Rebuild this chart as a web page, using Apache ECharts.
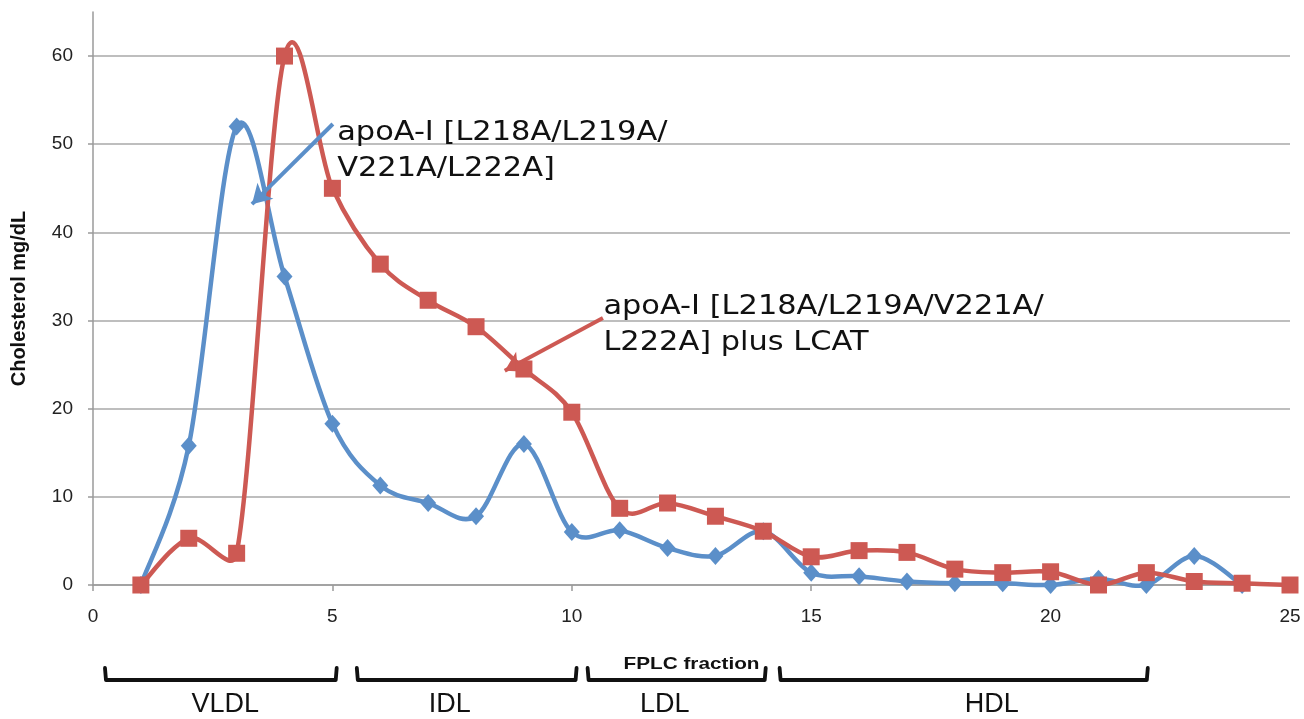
<!DOCTYPE html>
<html>
<head>
<meta charset="utf-8">
<script src="https://cdn.jsdelivr.net/npm/echarts@6/dist/echarts.min.js"></script>
<style>
html,body{margin:0;padding:0;background:#fff;}
#main{width:1304px;height:719px;}
</style>
</head>
<body>
<div id="main"></div>
<script>
// ---- data ----
const blueFractions = [1,2,3,4,5,6,7,8,9,10,11,12,13,14,15,16,17,18,19,20,21,22,23,24];
const blueValues    = [0,15.8,52,35,18.3,11.3,9.3,7.8,16,6,6.2,4.2,3.3,6.1,1.4,1.0,0.4,0.2,0.2,0,0.7,0,3.3,0];
const redFractions  = [1,2,3,4,5,6,7,8,9,10,11,12,13,14,15,16,17,18,19,20,21,22,23,24,25];
const redValues     = [0,5.3,3.6,60,45,36.4,32.3,29.3,24.5,19.6,8.7,9.3,7.8,6.1,3.2,3.9,3.7,1.8,1.4,1.5,0,1.4,0.4,0.2,0];
const yTickValues   = [0,10,20,30,40,50,60];
const xAxisTitle = 'FPLC fraction';
const yAxisTitle = 'Cholesterol mg/dL';
const blueLabel = 'apoA-I [L218A/L219A/\nV221A/L222A]';
const redLabel  = 'apoA-I [L218A/L219A/V221A/\nL222A] plus LCAT';
// annotation anchors (data units)
const blueArrow = [[5.01,52.3],[3.32,43.2]];
const redArrow  = [[10.65,30.3],[8.6,24.3]];
const blueTextAt = [5.1,53.3];
const redTextAt  = [10.66,33.6];
// lipoprotein class brackets (fraction ranges) and label centres
const bracketNames  = ['VLDL','IDL','LDL','HDL'];
const bracketStarts = [0.25,5.51,10.33,14.34];
const bracketEnds   = [5.09,10.1,14.05,22.03];
const bracketLabelX = [2.76,7.45,11.94,18.77];

const BLUE = '#5B8FC9';
const RED  = '#CD5953';

const chart = echarts.init(document.getElementById('main'));
const pairs = (xs, ys) => xs.map((x,i)=>[x, ys[i]]);

// Excel-style smoothed line: Bezier segments with 1/6 tangents, control arm
// limited to half the segment length; every point placed via the chart's scales (api.coord).
function smoothSegment(xs, ys, color){
  return function(params, api){
    const i = params.dataIndex;
    const n = xs.length;
    if (i >= n-1) return null;
    const P = k => { const c = Math.max(0,Math.min(n-1,k)); return api.coord([xs[c], ys[c]]); };
    const p0 = P(i-1), p1 = P(i), p2 = P(i+1), p3 = P(i+2);
    const d = (a,b) => Math.hypot(a[0]-b[0], a[1]-b[1]);
    const d12 = d(p1,p2), d02 = d(p0,p2), d13 = d(p1,p3);
    const f1 = d02 > 0 ? Math.min(1/6, d12/(2*d02)) : 0;
    const f2 = d13 > 0 ? Math.min(1/6, d12/(2*d13)) : 0;
    return {
      type:'bezierCurve',
      shape:{
        x1:p1[0], y1:p1[1], x2:p2[0], y2:p2[1],
        cpx1:p1[0]+(p2[0]-p0[0])*f1, cpy1:p1[1]+(p2[1]-p0[1])*f1,
        cpx2:p2[0]-(p3[0]-p1[0])*f2, cpy2:p2[1]-(p3[1]-p1[1])*f2
      },
      style:{stroke:color,lineWidth:4.5,fill:null,lineCap:'round'},
      silent:true
    };
  };
}

const option = {
  animation:false,
  backgroundColor:'#fff',
  grid:{left:93,right:14,top:12,bottom:134,containLabel:false},
  xAxis:{
    type:'value', min:0, max:25, interval:5,
    axisLine:{show:true,lineStyle:{color:'#9a9a9a',width:1.5}},
    axisTick:{show:true,length:6,lineStyle:{color:'#9a9a9a',width:1.5}},
    axisLabel:{fontSize:19,color:'#222',margin:22,fontFamily:'Liberation Sans'},
    splitLine:{show:false}
  },
  yAxis:{
    type:'value', min:0, max:65, interval:10,
    axisLine:{show:true,lineStyle:{color:'#9a9a9a',width:1.5}},
    axisTick:{show:true,length:5,customValues:yTickValues,lineStyle:{color:'#9a9a9a',width:1.5}},
    axisLabel:{fontSize:19,color:'#222',margin:20,fontFamily:'Liberation Sans',customValues:yTickValues},
    splitLine:{show:true,lineStyle:{color:['#a8a8a8','#a8a8a8','#a8a8a8','#a8a8a8','#a8a8a8','#a8a8a8','#a8a8a8','rgba(0,0,0,0)'],width:1.5}},
    name:yAxisTitle, nameLocation:'middle', nameGap:64, nameRotate:90,
    nameTextStyle:{fontSize:20,fontWeight:'bold',color:'#111',fontFamily:'Liberation Sans'}
  },
  series:[
    {
      type:'custom', name:'blueLine', data:pairs(blueFractions,blueValues),
      encode:{x:0,y:1}, clip:false, z:2,
      renderItem:smoothSegment(blueFractions,blueValues,BLUE)
    },
    {
      type:'scatter', name:'blue', data:pairs(blueFractions,blueValues),
      symbol:'diamond', symbolSize:[16,18], itemStyle:{color:BLUE,opacity:1}, z:3, silent:true,
      markLine:{
        silent:true, symbol:['none','arrow'], symbolSize:[17,19],
        label:{show:false},
        lineStyle:{color:BLUE,width:4,type:'solid',opacity:1},
        data:[[{coord:blueArrow[0]},{coord:blueArrow[1]}]]
      }
    },
    {
      type:'custom', name:'redLine', data:pairs(redFractions,redValues),
      encode:{x:0,y:1}, clip:false, z:4,
      renderItem:smoothSegment(redFractions,redValues,RED)
    },
    {
      type:'scatter', name:'red', data:pairs(redFractions,redValues),
      symbol:'rect', symbolSize:17, itemStyle:{color:RED,opacity:1}, z:5, silent:true,
      markLine:{
        silent:true, symbol:['none','arrow'], symbolSize:[17,19],
        label:{show:false},
        lineStyle:{color:RED,width:4,type:'solid',opacity:1},
        data:[[{coord:redArrow[0]},{coord:redArrow[1]}]]
      }
    }
  ]
};
chart.setOption(option);

// annotations positioned through the chart's own scales
const px = p => chart.convertToPixel({gridIndex:0}, p);
const yBracketTop = 668, yBracketBottom = 680, yLabel = 705;
const graphics = [];
bracketNames.forEach((nm,i)=>{
  const x1 = px([bracketStarts[i],0])[0];
  const x2 = px([bracketEnds[i],0])[0];
  const xl = px([bracketLabelX[i],0])[0];
  graphics.push({
    type:'polyline', silent:true,
    shape:{points:[[x1,yBracketTop],[x1+1,yBracketBottom],[x2-1,yBracketBottom],[x2,yBracketTop]]},
    style:{stroke:'#111',lineWidth:3.8,fill:null,lineJoin:'round',lineCap:'round'}
  });
  graphics.push({
    type:'text', silent:true, x:xl, y:yLabel,
    style:{text:nm,font:'27px "Liberation Sans"',fill:'#111',align:'center',verticalAlign:'middle'}
  });
});
const xc = px([12.5,0])[0];
graphics.push({type:'text',silent:true,x:xc,y:664,scaleX:1.22,
  style:{text:xAxisTitle,font:'bold 17px "Liberation Sans"',fill:'#111',align:'center',verticalAlign:'middle'}});
const bt = px(blueTextAt), rt = px(redTextAt);
graphics.push({type:'text',silent:true,x:bt[0],y:bt[1],scaleX:1.17,
  style:{text:blueLabel,font:'26px "DejaVu Sans"',lineHeight:36,fill:'#111',align:'left',verticalAlign:'top'}});
graphics.push({type:'text',silent:true,x:rt[0],y:rt[1],scaleX:1.17,
  style:{text:redLabel,font:'26px "DejaVu Sans"',lineHeight:36,fill:'#111',align:'left',verticalAlign:'top'}});
chart.setOption({graphic:graphics});
</script>
</body>
</html>
